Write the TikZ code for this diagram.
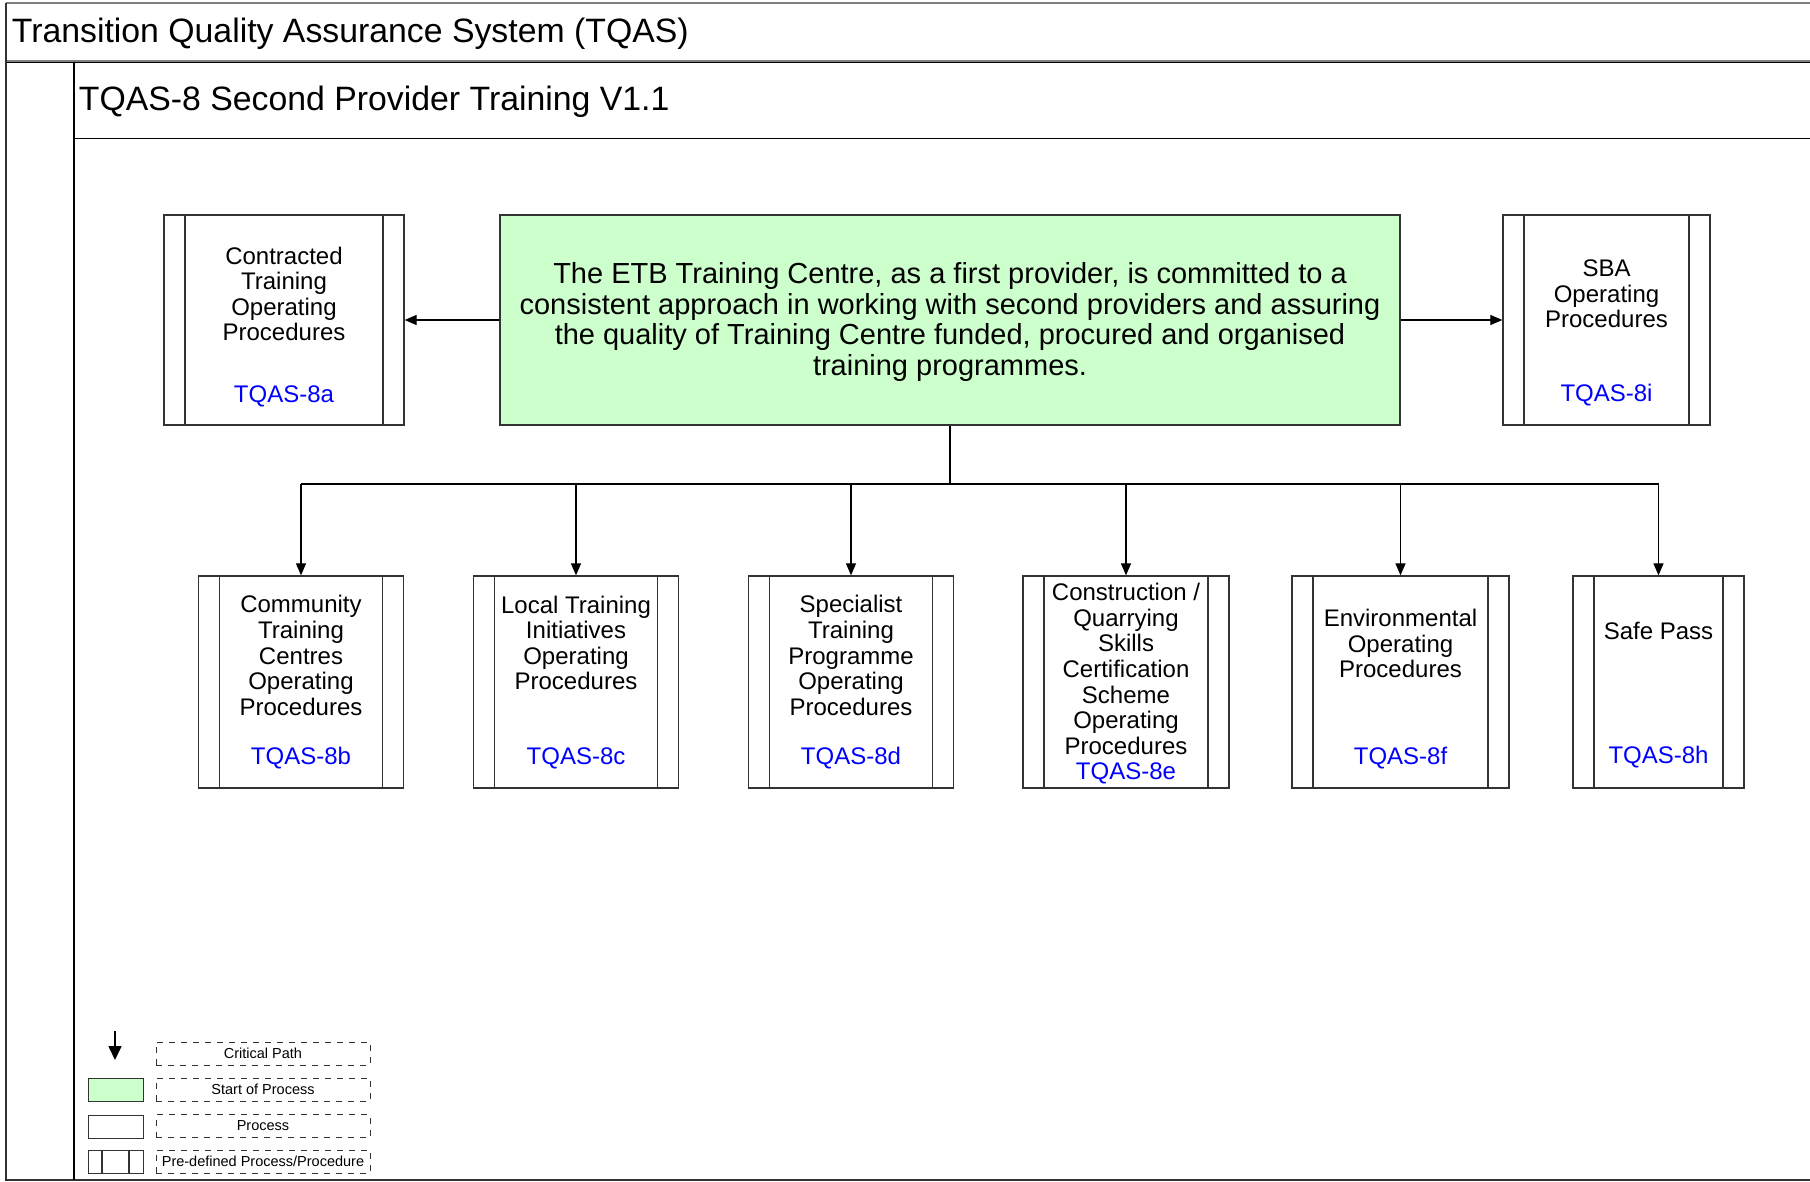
\documentclass[tikz,border=0pt]{standalone}
\usepackage{fontspec}
\setmainfont{Liberation Sans}
\usetikzlibrary{arrows.meta}
\definecolor{startgreen}{HTML}{CCFFCC}
\definecolor{linkblue}{HTML}{0000FF}
\definecolor{boxline}{HTML}{333333}
\tikzset{
  predef/.style={draw=boxline, line width=0.65pt, fill=white, rectangle, inner sep=0pt,
    path picture={
      \draw[boxline, line width=0.65pt] ([xshift=#1]path picture bounding box.north west) -- ([xshift=#1]path picture bounding box.south west);
      \draw[boxline, line width=0.65pt] ([xshift=-#1]path picture bounding box.north east) -- ([xshift=-#1]path picture bounding box.south east);
    }},
  predef/.default=10.5pt,
  startbox/.style={draw=boxline, line width=0.65pt, fill=startgreen, rectangle, inner sep=0pt},
  procbox/.style={draw=boxline, line width=0.65pt, fill=white, rectangle, inner sep=0pt},
  boxtext/.style={inner sep=0pt, align=center, font=\fontsize{12pt}{12.8pt}\selectfont},
  codetext/.style={inner sep=0pt, text=linkblue, font=\fontsize{12pt}{12.8pt}\selectfont},
  starttext/.style={inner sep=0pt, align=center, font=\fontsize{14.5pt}{15.4pt}\selectfont},
  legendbox/.style={draw=black!80, dashed, line width=0.5pt, rectangle, inner sep=0pt,
    minimum width=107pt, minimum height=11.5pt, font=\fontsize{7.25pt}{8pt}\selectfont},
  conn/.style={draw=black, line width=0.6pt, -{Triangle[length=6pt,width=5pt]}},
  bigconn/.style={draw=black, line width=0.8pt, -{Triangle[length=7pt,width=6.5pt]}},
  plainline/.style={draw=black, line width=0.6pt},
  titletext/.style={inner sep=0pt, anchor=west, font=\fontsize{16.9pt}{18pt}\selectfont},
}
\begin{document}
\begin{tikzpicture}[x=0.5pt, y=-0.5pt]
\useasboundingbox (0,0) rectangle (1810,1182);
% frame
\draw[gray, line width=1.2pt] (6,3) -- (1810,3);
\draw[gray, line width=1.2pt] (6,61) -- (1810,61);
\draw[black, line width=0.6pt] (6,62.5) -- (1810,62.5);
\draw[black!80, line width=0.7pt] (6,3) -- (6,1180) -- (1810,1180);
\draw[black, line width=0.7pt] (74,62) -- (74,1180);
\draw[black, line width=0.6pt] (74,138.5) -- (1810,138.5);
\node[titletext] (title) at (11.5,34) {Transition Quality Assurance System (TQAS)};
\node[titletext] (subtitle) at (78.5,102) {TQAS-8 Second Provider Training V1.1};

% top row
\node[predef, minimum width=120pt, minimum height=105pt] (a) at (284,320) {};
\node[boxtext] (a-t) at (284,294) {Contracted\\Training\\Operating\\Procedures};
\node[codetext] (a-c) at (284,396.5) {TQAS-8a};

\node[startbox, minimum width=450pt, minimum height=105pt] (start) at (950,320) {};
\node[starttext] (start-t) at (950,322) {The ETB Training Centre, as a first provider, is committed to a\\consistent approach in working with second providers and assuring\\the quality of Training Centre funded, procured and organised\\training programmes.};

\node[predef, minimum width=103.5pt, minimum height=105pt] (i) at (1606.5,320) {};
\node[boxtext] (i-t) at (1606.5,294) {SBA\\Operating\\Procedures};
\node[codetext] (i-c) at (1606.5,395.5) {TQAS-8i};

% bottom row
\node[predef, minimum width=102.75pt, minimum height=106pt] (b) at (301,682) {};
\node[boxtext] (b-t) at (301,655.5) {Community\\Training\\Centres\\Operating\\Procedures};
\node[codetext] (b-c) at (301,758.5) {TQAS-8b};

\node[predef, minimum width=102.75pt, minimum height=106pt] (c) at (576,682) {};
\node[boxtext] (c-t) at (576,643) {Local Training\\Initiatives\\Operating\\Procedures};
\node[codetext] (c-c) at (576,758.5) {TQAS-8c};

\node[predef, minimum width=102.75pt, minimum height=106pt] (d) at (851,682) {};
\node[boxtext] (d-t) at (851,655.5) {Specialist\\Training\\Programme\\Operating\\Procedures};
\node[codetext] (d-c) at (851,758.5) {TQAS-8d};

\node[predef, minimum width=103pt, minimum height=106pt] (e) at (1126,682) {};
\node[boxtext] (e-t) at (1126,669) {Construction /\\Quarrying\\Skills\\Certification\\Scheme\\Operating\\Procedures};
\node[codetext] (e-c) at (1126,773.5) {TQAS-8e};

\node[predef, minimum width=108.5pt, minimum height=106pt] (f) at (1400.5,682) {};
\node[boxtext] (f-t) at (1400.5,643.5) {Environmental\\Operating\\Procedures};
\node[codetext] (f-c) at (1400.5,758.5) {TQAS-8f};

\node[predef, minimum width=85.5pt, minimum height=106pt] (h) at (1658.5,682) {};
\node[boxtext] (h-t) at (1658.5,631) {Safe Pass};
\node[codetext] (h-c) at (1658.5,757.5) {TQAS-8h};

% connectors
\draw[conn] (start.west) -- (a.east);
\draw[conn] (start.east) -- (i.west);
\coordinate (bus) at (950,484);
\draw[plainline] (start.south) -- (bus);
\draw[plainline] (b.north |- bus) -- (h.north |- bus);
\foreach \n in {b,c,d,e,f,h}{
  \draw[conn] (\n.north |- bus) -- (\n.north);
}

% legend
\coordinate (lgA) at (115,1031);
\coordinate (lgB) at (115,1060);
\draw[bigconn] (lgA) -- (lgB);
\node[legendbox] (l1) at (263,1053.5) {Critical Path};
\node[legendbox] (l2) at (263,1089.5) {Start of Process};
\node[legendbox] (l3) at (263,1126) {Process};
\node[legendbox] (l4) at (263,1161.5) {Pre-defined Process/Procedure};
\node[startbox, line width=0.5pt, minimum width=27.5pt, minimum height=11.5pt] (s2) at (115.5,1090) {};
\node[procbox, line width=0.5pt, minimum width=27.5pt, minimum height=11.5pt] (s3) at (115.5,1126.5) {};
\node[predef=7pt, line width=0.5pt, minimum width=27.5pt, minimum height=11.5pt] (s4) at (115.5,1161.5) {};
\end{tikzpicture}
\end{document}
